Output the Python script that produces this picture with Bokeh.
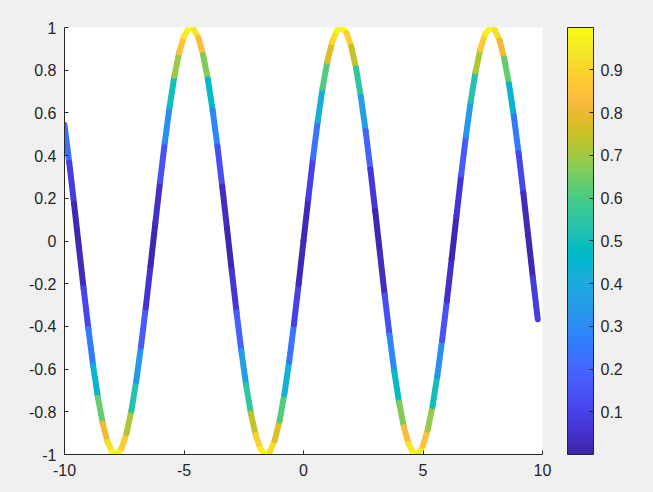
from bokeh.plotting import figure
from bokeh.models import ColumnDataSource, FixedTicker, LinearColorMapper, ColorBar, Range1d
from bokeh.transform import linear_cmap
from bokeh.embed import file_html
from bokeh.resources import INLINE

x_values = [-10.0, -9.8, -9.6, -9.4, -9.2, -9.0, -8.8, -8.6, -8.4, -8.2,
            -8.0, -7.8, -7.6, -7.4, -7.2, -7.0, -6.8, -6.6, -6.4, -6.2,
            -6.0, -5.8, -5.6, -5.4, -5.2, -5.0, -4.8, -4.6, -4.4, -4.2,
            -4.0, -3.8, -3.6, -3.4, -3.2, -3.0, -2.8, -2.6, -2.4, -2.2,
            -2.0, -1.8, -1.6, -1.4, -1.2, -1.0, -0.8, -0.6, -0.4, -0.2,
            0.0, 0.2, 0.4, 0.6, 0.8, 1.0, 1.2, 1.4, 1.6, 1.8,
            2.0, 2.2, 2.4, 2.6, 2.8, 3.0, 3.2, 3.4, 3.6, 3.8,
            4.0, 4.2, 4.4, 4.6, 4.8, 5.0, 5.2, 5.4, 5.6, 5.8,
            6.0, 6.2, 6.4, 6.6, 6.8, 7.0, 7.2, 7.4, 7.6, 7.8,
            8.0, 8.2, 8.4, 8.6, 8.8, 9.0, 9.2, 9.4, 9.6, 9.8]
y_values = [0.5440, 0.3665, 0.1743, -0.0248, -0.2229, -0.4121, -0.5849, -0.7344, -0.8546, -0.9407,
            -0.9894, -0.9985, -0.9679, -0.8987, -0.7937, -0.6570, -0.4941, -0.3115, -0.1165, 0.0831,
            0.2794, 0.4646, 0.6313, 0.7728, 0.8835, 0.9589, 0.9962, 0.9937, 0.9516, 0.8716,
            0.7568, 0.6119, 0.4425, 0.2555, 0.0584, -0.1411, -0.3350, -0.5155, -0.6755, -0.8085,
            -0.9093, -0.9738, -0.9996, -0.9854, -0.9320, -0.8415, -0.7174, -0.5646, -0.3894, -0.1987,
            0.0, 0.1987, 0.3894, 0.5646, 0.7174, 0.8415, 0.9320, 0.9854, 0.9996, 0.9738,
            0.9093, 0.8085, 0.6755, 0.5155, 0.3350, 0.1411, -0.0584, -0.2555, -0.4425, -0.6119,
            -0.7568, -0.8716, -0.9516, -0.9937, -0.9962, -0.9589, -0.8835, -0.7728, -0.6313, -0.4646,
            -0.2794, -0.0831, 0.1165, 0.3115, 0.4941, 0.6570, 0.7937, 0.8987, 0.9679, 0.9985,
            0.9894, 0.9407, 0.8546, 0.7344, 0.5849, 0.4121, 0.2229, 0.0248, -0.1743, -0.3665]
# colour value of each point (square of the height)
c_values = [v * v for v in y_values]

x_ticks = [-10, -5, 0, 5, 10]
x_tick_labels = ["-10", "-5", "0", "5", "10"]
y_ticks = [-1, -0.8, -0.6, -0.4, -0.2, 0, 0.2, 0.4, 0.6, 0.8, 1]
y_tick_labels = ["-1", "-0.8", "-0.6", "-0.4", "-0.2", "0", "0.2", "0.4", "0.6", "0.8", "1"]
cbar_ticks = [0.1, 0.2, 0.3, 0.4, 0.5, 0.6, 0.7, 0.8, 0.9]

# ---- parula colormap (style) ----
parula64 = [
    (0.2422, 0.1504, 0.6603), (0.2504, 0.1650, 0.7076), (0.2578, 0.1818, 0.7511), (0.2647, 0.1978, 0.7952),
    (0.2706, 0.2147, 0.8364), (0.2751, 0.2342, 0.8710), (0.2783, 0.2559, 0.8991), (0.2803, 0.2782, 0.9221),
    (0.2813, 0.3006, 0.9414), (0.2810, 0.3228, 0.9579), (0.2795, 0.3447, 0.9717), (0.2760, 0.3667, 0.9829),
    (0.2699, 0.3892, 0.9906), (0.2602, 0.4123, 0.9952), (0.2440, 0.4358, 0.9988), (0.2206, 0.4603, 0.9973),
    (0.1963, 0.4847, 0.9892), (0.1834, 0.5074, 0.9798), (0.1786, 0.5289, 0.9682), (0.1764, 0.5499, 0.9520),
    (0.1687, 0.5703, 0.9359), (0.1540, 0.5902, 0.9218), (0.1460, 0.6091, 0.9079), (0.1380, 0.6276, 0.8973),
    (0.1248, 0.6459, 0.8883), (0.1113, 0.6635, 0.8763), (0.0952, 0.6798, 0.8598), (0.0689, 0.6948, 0.8394),
    (0.0297, 0.7082, 0.8163), (0.0036, 0.7203, 0.7917), (0.0067, 0.7312, 0.7660), (0.0433, 0.7411, 0.7394),
    (0.0964, 0.7500, 0.7120), (0.1408, 0.7584, 0.6842), (0.1717, 0.7670, 0.6554), (0.1938, 0.7758, 0.6251),
    (0.2161, 0.7843, 0.5923), (0.2470, 0.7918, 0.5567), (0.2906, 0.7973, 0.5188), (0.3406, 0.8008, 0.4789),
    (0.3909, 0.8029, 0.4354), (0.4456, 0.8024, 0.3909), (0.5044, 0.7993, 0.3480), (0.5616, 0.7942, 0.3045),
    (0.6174, 0.7876, 0.2612), (0.6720, 0.7793, 0.2227), (0.7242, 0.7698, 0.1910), (0.7738, 0.7598, 0.1646),
    (0.8203, 0.7498, 0.1535), (0.8634, 0.7406, 0.1596), (0.9035, 0.7330, 0.1774), (0.9393, 0.7288, 0.2100),
    (0.9728, 0.7298, 0.2394), (0.9956, 0.7434, 0.2371), (0.9970, 0.7659, 0.2199), (0.9952, 0.7893, 0.2028),
    (0.9892, 0.8136, 0.1885), (0.9786, 0.8386, 0.1766), (0.9676, 0.8639, 0.1643), (0.9610, 0.8890, 0.1537),
    (0.9597, 0.9135, 0.1423), (0.9628, 0.9373, 0.1265), (0.9691, 0.9606, 0.1064), (0.9769, 0.9839, 0.0805),
]
palette = []
for i in range(256):
    t = i / 255 * 63
    k = min(int(t), 62)
    f = t - k
    a, b = parula64[k], parula64[k + 1]
    rgb = [round(255 * (a[j] + (b[j] - a[j]) * f)) for j in range(3)]
    palette.append("#%02x%02x%02x" % tuple(rgb))

# ---- segments ----
seg = ColumnDataSource(dict(
    x0=x_values[:-1], y0=y_values[:-1], x1=x_values[1:], y1=y_values[1:],
    c=[(c_values[i] + c_values[i + 1]) / 2 for i in range(len(c_values) - 1)],
))

lo, hi = min(c_values), max(c_values)
mapper = LinearColorMapper(palette=palette, low=lo, high=hi)

FONT = "Liberation Sans"
TXT = "#262626"

p = figure(width=653, height=492, output_backend="svg", toolbar_location=None,
           x_range=Range1d(-10, 10), y_range=Range1d(-1, 1),
           min_border_left=64, min_border_right=111, min_border_top=27, min_border_bottom=38)
p.background_fill_color = "white"
p.border_fill_color = "#f0f0f0"
p.outline_line_color = None
p.grid.visible = False

p.segment(x0="x0", y0="y0", x1="x1", y1="y1", source=seg, line_width=6, line_cap="round",
          line_color=linear_cmap("c", palette, lo, hi))

for ax in (p.xaxis[0], p.yaxis[0]):
    ax.axis_line_color = TXT
    ax.major_tick_line_color = TXT
    ax.major_tick_in = 4
    ax.major_tick_out = 0
    ax.minor_tick_line_color = None
    ax.major_label_text_font = FONT
    ax.major_label_text_font_size = "16px"
    ax.major_label_text_color = TXT
p.xaxis[0].ticker = FixedTicker(ticks=x_ticks)
p.xaxis[0].major_label_overrides = {t: l for t, l in zip(x_ticks, x_tick_labels)}
p.yaxis[0].ticker = FixedTicker(ticks=y_ticks)
p.yaxis[0].major_label_overrides = {t: l for t, l in zip(y_ticks, y_tick_labels)}
p.xaxis[0].major_label_standoff = 9
p.yaxis[0].major_label_standoff = 8

cb = ColorBar(color_mapper=mapper, ticker=FixedTicker(ticks=cbar_ticks),
              width=26, height=427, padding=0, margin=0, location=(25, 0),
              bar_line_color=TXT, major_tick_line_color=TXT, major_tick_in=4, major_tick_out=0,
              major_label_text_font=FONT, major_label_text_font_size="16px",
              major_label_text_color=TXT, label_standoff=7,
              background_fill_color=None, border_line_color=None)
p.add_layout(cb, "right")

html = file_html(p, INLINE)
html = html.replace("</head>", "<style>body{background:#f0f0f0;}</style></head>")
open("out.html", "w").write(html)
